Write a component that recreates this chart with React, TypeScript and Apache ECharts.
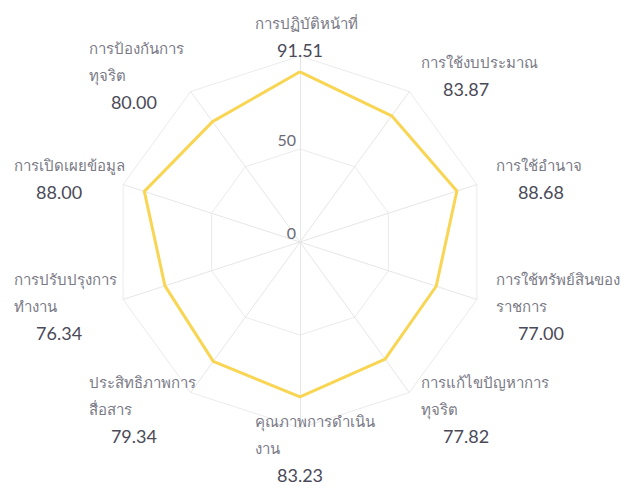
import React, { useEffect, useRef } from "react";
import * as echarts from "echarts";

// Clockwise from the top
const categories: string[] = [
  "การปฏิบัติหน้าที่",
  "การใช้งบประมาณ",
  "การใช้อำนาจ",
  "การใช้ทรัพย์สินของ\nราชการ",
  "การแก้ไขปัญหาการ\nทุจริต",
  "คุณภาพการดำเนิน\nงาน",
  "ประสิทธิภาพการ\nสื่อสาร",
  "การปรับปรุงการ\nทำงาน",
  "การเปิดเผยข้อมูล",
  "การป้องกันการ\nทุจริต",
];
const scores: number[] = [91.51, 83.87, 88.68, 77.0, 77.82, 83.23, 79.34, 76.34, 88.0, 80.0];
const axisMax = 100;

export default function App() {
  const ref = useRef<HTMLDivElement>(null);
  useEffect(() => {
    document.body.style.margin = "0";
    if (!ref.current) return;
    const chart = echarts.init(ref.current, undefined, { renderer: "svg" });
    // ECharts places indicators counter-clockwise: top first, then reverse the rest
    const order = [0, ...Array.from({ length: categories.length - 1 }, (_, i) => categories.length - 1 - i)];
    const valueByName = new Map<string, number>();
    categories.forEach((c, i) => valueByName.set(c, scores[i]));
    const font = "Lato, 'Noto Sans', sans-serif";
    const indicator = order.map((idx, k) => {
      const ind: any = { name: categories[idx], min: 0, max: axisMax };
      if (k === 0) {
        ind.axisLabel = {
          show: true,
          color: "#6b6b78",
          fontSize: 16,
          fontFamily: font,
          margin: 4,
          verticalAlign: "bottom",
          padding: [0, 0, 2, 0],
          showMaxLabel: false,
        };
      }
      return ind;
    });
    chart.setOption({
      animation: false,
      radar: {
        center: [300, 242],
        radius: 186,
        startAngle: 90,
        splitNumber: 2,
        shape: "polygon",
        nameGap: 20,
        indicator,
        axisName: {
          verticalAlign: "middle",
          formatter: (name: string) => {
            const v = valueByName.get(name);
            const lines = name.split("\n").map((l) => `{a|${l}}`);
            return lines.join("\n") + `\n{b|${(v ?? 0).toFixed(2)}}`;
          },
          rich: {
            a: { fontSize: 15, color: "#7a7a86", lineHeight: 27, width: 90, align: "left", fontFamily: font },
            b: { fontSize: 18, color: "#4a4a58", lineHeight: 27, width: 90, align: "center", fontFamily: font },
          },
        },
        axisLine: { lineStyle: { color: "#e6e6e6", width: 1 } },
        splitLine: { lineStyle: { color: "#ebebeb", width: 1 } },
        splitArea: { show: false },
        axisTick: { show: false },
        axisLabel: { show: false },
      },
      series: [
        {
          type: "radar",
          symbol: "none",
          lineStyle: { color: "#F9D554", width: 3 },
          itemStyle: { color: "#F9D554" },
          data: [{ value: order.map((idx) => scores[idx]), name: "score" }],
        },
      ],
    });
    return () => chart.dispose();
  }, []);
  return <div ref={ref} style={{ width: 633, height: 490 }} />;
}
